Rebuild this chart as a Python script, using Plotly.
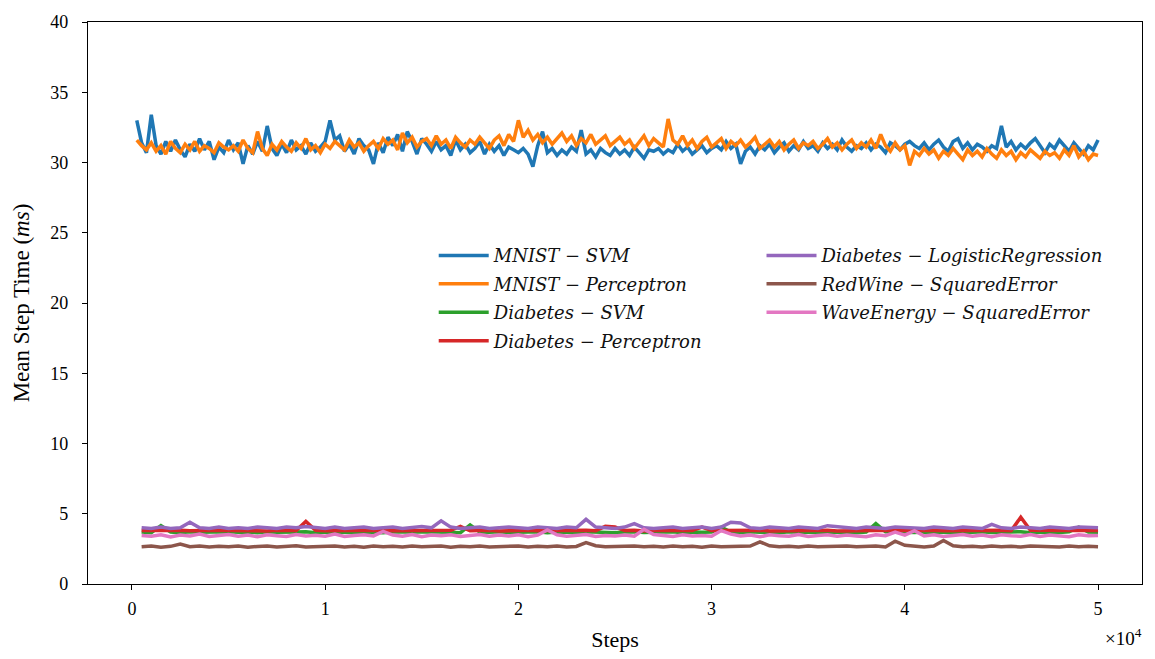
import plotly.graph_objects as go

# ---------------- data ----------------
steps_hi = [250 * (i + 1) for i in range(200)]  # 250 .. 50000
steps_lo = [500 * (i + 1) for i in range(100)]  # 500 .. 50000

mnist_svm = [
    33.0, 31.4, 30.7, 33.4, 31.2, 30.6, 31.5, 30.8, 31.6, 30.9,
    30.4, 31.3, 30.8, 31.7, 30.9, 31.5, 30.2, 31.1, 30.7, 31.6,
    30.9, 31.4, 29.9, 31.2, 30.6, 31.5, 30.8, 32.6, 31.0, 30.5,
    31.3, 30.7, 31.6, 30.9, 31.2, 30.6, 31.4, 30.8, 31.1, 31.5,
    33.0, 31.6, 31.9, 30.8, 31.3, 30.6, 31.7, 31.2, 30.9, 29.9,
    31.4, 30.7, 31.8, 31.2, 32.0, 30.8, 32.2, 31.5, 30.6, 31.7,
    31.3, 30.8, 31.5, 30.9, 31.2, 30.5, 31.6, 30.9, 31.3, 30.7,
    31.0, 31.5, 30.6, 31.3, 30.8, 31.2, 30.5, 31.1, 30.9, 30.7,
    31.0, 30.6, 29.7, 31.2, 32.2, 30.7, 31.0, 30.5, 30.9, 30.6,
    31.1, 30.8, 32.3, 30.6, 30.9, 30.4, 31.0, 30.7, 30.5, 31.0,
    30.6, 30.9, 30.5, 31.1, 30.7, 30.3, 30.9, 30.8, 31.0, 30.6,
    30.9, 30.7, 31.3, 30.8, 31.1, 30.6, 30.9, 31.2, 30.7, 31.0,
    31.2, 30.9, 31.5, 31.0, 31.3, 29.9, 30.8, 31.1, 30.6, 31.2,
    30.9, 31.3, 30.7, 31.1, 31.4, 30.8, 31.2, 30.9, 31.5, 31.0,
    31.2, 30.8, 31.4, 31.0, 31.3, 30.9, 31.6, 31.1, 30.8, 31.2,
    31.0, 31.4, 30.9, 31.3, 31.1, 30.7, 31.4, 31.2, 30.9, 31.3,
    31.5, 31.2, 31.0, 31.4, 30.9, 31.3, 31.6, 31.1, 30.8, 31.5,
    31.7, 31.0, 31.4, 30.9, 31.3, 31.1, 30.8, 31.2, 31.0, 32.6,
    31.1, 31.5, 30.9, 31.3, 31.0, 31.4, 31.7, 31.2, 30.7, 31.3,
    31.0, 31.6, 31.2, 30.8, 31.4, 31.0, 30.6, 31.2, 30.9, 31.6,
]

mnist_perceptron = [
    31.6, 31.2, 30.9, 31.4, 30.8, 31.2, 30.6, 31.5, 31.0, 30.7,
    31.3, 30.9, 31.5, 30.8, 31.2, 31.0, 30.7, 31.4, 31.1, 30.9,
    31.2, 30.8, 31.6, 31.0, 30.7, 32.2, 31.0, 30.5, 31.3, 30.9,
    31.5, 31.1, 30.8, 31.4, 31.0, 31.7, 30.9, 31.2, 30.7, 31.3,
    31.0, 31.5, 31.2, 30.9, 31.6, 31.1, 31.4, 30.8, 31.2, 31.5,
    31.0, 31.7, 31.3, 31.6, 30.9, 32.1, 31.4, 31.8, 31.1, 31.5,
    31.7, 31.2, 31.9, 31.3, 31.6, 31.0, 31.8, 31.4, 31.1, 31.6,
    31.3, 31.8, 31.4, 31.0, 31.6, 31.9, 31.2, 32.0, 31.5, 33.0,
    31.8, 32.3, 31.6, 32.0, 31.4, 31.8, 31.3, 31.7, 32.1, 31.5,
    31.9, 31.2, 31.7, 31.4, 32.0, 31.3, 31.6, 31.9, 31.2, 31.5,
    31.8, 31.3, 31.6, 31.0, 31.5, 31.9, 31.2, 31.7, 31.4, 31.1,
    33.1, 31.6, 31.3, 31.9, 31.2, 31.6, 31.0, 31.5, 31.8, 31.1,
    31.4, 31.7, 31.0, 31.5, 31.2, 31.6, 31.1, 31.4, 31.8, 31.0,
    31.3, 31.6, 31.1, 31.5, 30.9, 31.3, 31.6, 31.0, 31.4, 31.2,
    31.5, 31.0, 31.3, 31.7, 31.1, 31.4, 30.9, 31.3, 31.6, 31.0,
    31.4, 31.1, 31.6, 31.0, 32.0, 31.2, 30.8, 31.4, 30.9, 31.2,
    29.8, 30.8, 30.5, 31.0, 30.6, 30.9, 30.3, 30.8, 30.5, 31.0,
    30.6, 30.2, 30.9, 30.5, 30.8, 30.4, 31.0, 30.6, 30.3, 30.9,
    30.5, 30.8, 30.2, 30.7, 30.4, 30.9, 30.6, 30.3, 30.8, 30.5,
    30.7, 30.3, 30.9, 30.5, 31.2, 30.4, 30.8, 30.2, 30.6, 30.5,
]

diabetes_svm = [
    3.70, 3.65, 4.15, 3.70, 3.65, 3.72, 3.68, 3.70, 3.66, 3.72,
    3.68, 3.70, 3.65, 3.72, 3.68, 3.66, 3.70, 3.72, 3.65, 3.70,
    3.68, 3.72, 3.66, 3.70, 3.68, 3.65, 3.72, 3.70, 3.66, 3.70,
    3.72, 3.68, 3.70, 3.65, 4.20, 3.70, 3.68, 3.72, 3.66, 3.70,
    3.68, 3.72, 3.65, 3.70, 3.68, 3.66, 3.72, 3.70, 3.68, 3.65,
    3.70, 3.72, 3.66, 3.70, 3.68, 3.72, 3.65, 3.70, 3.68, 3.70,
    4.05, 3.70, 3.66, 3.72, 3.68, 3.70, 3.65, 3.72, 3.68, 3.70,
    3.66, 3.72, 3.70, 3.68, 3.65, 3.70, 4.30, 3.72, 3.68, 3.70,
    3.66, 3.70, 3.72, 3.68, 3.65, 3.70, 3.68, 3.72, 3.66, 3.70,
    3.68, 3.72, 3.65, 3.70, 3.68, 3.66, 3.72, 4.05, 3.70, 3.68,
]

diabetes_perceptron = [
    3.80, 3.82, 3.78, 3.80, 3.83, 3.79, 3.81, 3.78, 3.82, 3.80,
    3.79, 3.83, 3.80, 3.78, 3.82, 3.80, 3.81, 4.45, 3.82, 3.79,
    3.80, 3.82, 3.78, 3.81, 3.80, 3.83, 3.79, 3.80, 3.82, 3.78,
    3.81, 3.80, 3.82, 4.10, 3.79, 3.80, 3.83, 3.78, 3.81, 3.80,
    3.82, 3.79, 3.80, 3.83, 3.78, 3.80, 3.82, 3.79, 4.10, 4.05,
    3.80, 3.82, 3.78, 3.81, 3.80, 3.83, 3.79, 3.80, 4.05, 3.81,
    3.80, 3.82, 3.79, 3.81, 3.83, 3.78, 3.80, 3.82, 3.79, 3.81,
    3.80, 3.83, 3.78, 3.80, 3.82, 3.79, 3.81, 3.80, 3.82, 3.78,
    3.81, 3.80, 3.83, 3.79, 3.80, 3.82, 3.78, 3.81, 3.80, 3.83,
    3.79, 4.75, 3.82, 3.80, 3.78, 3.81, 3.80, 3.82, 3.79, 3.80,
]

diabetes_logreg = [
    4.00, 3.95, 4.05, 3.95, 4.00, 4.40, 4.00, 3.95, 4.05, 3.95,
    4.00, 3.95, 4.05, 4.00, 3.95, 4.05, 4.00, 4.10, 4.00, 3.95,
    4.05, 3.95, 4.00, 4.05, 3.95, 4.00, 4.05, 3.95, 4.00, 4.10,
    4.00, 4.50, 4.05, 3.95, 4.00, 4.05, 3.95, 4.00, 4.05, 4.00,
    3.95, 4.05, 4.00, 3.95, 4.05, 4.00, 4.60, 4.05, 4.00, 3.95,
    4.05, 4.30, 4.00, 3.95, 4.00, 4.05, 3.95, 4.00, 4.05, 3.95,
    4.05, 4.40, 4.35, 4.00, 3.95, 4.05, 4.00, 3.95, 4.05, 4.00,
    3.95, 4.15, 4.10, 4.00, 3.95, 4.05, 4.00, 3.95, 4.05, 4.00,
    4.00, 3.95, 4.05, 4.00, 3.95, 4.05, 4.00, 3.95, 4.25, 4.00,
    3.95, 4.05, 4.00, 3.95, 4.05, 4.00, 3.95, 4.05, 4.00, 4.00,
]

redwine_sqerr = [
    2.65, 2.70, 2.62, 2.68, 2.85, 2.66, 2.70, 2.63, 2.68, 2.65,
    2.70, 2.62, 2.67, 2.70, 2.64, 2.68, 2.72, 2.63, 2.67, 2.65,
    2.70, 2.64, 2.68, 2.62, 2.70, 2.66, 2.68, 2.63, 2.70, 2.65,
    2.67, 2.70, 2.62, 2.68, 2.65, 2.70, 2.64, 2.68, 2.66, 2.70,
    2.63, 2.68, 2.65, 2.70, 2.64, 2.67, 2.95, 2.72, 2.66, 2.68,
    2.64, 2.70, 2.66, 2.68, 2.63, 2.70, 2.65, 2.68, 2.62, 2.70,
    2.66, 2.68, 2.64, 2.70, 3.00, 2.72, 2.65, 2.68, 2.63, 2.70,
    2.66, 2.68, 2.64, 2.70, 2.65, 2.67, 2.70, 2.64, 3.05, 2.75,
    2.68, 2.64, 2.70, 3.10, 2.72, 2.66, 2.68, 2.64, 2.70, 2.65,
    2.68, 2.63, 2.70, 2.66, 2.68, 2.64, 2.70, 2.65, 2.68, 2.66,
]

waveenergy_sqerr = [
    3.45, 3.40, 3.50, 3.35, 3.48, 3.42, 3.55, 3.38, 3.46, 3.52,
    3.40, 3.48, 3.36, 3.50, 3.44, 3.38, 3.52, 3.42, 3.47, 3.40,
    3.55, 3.38, 3.45, 3.50, 3.42, 3.75, 3.48, 3.40, 3.52, 3.36,
    3.48, 3.44, 3.50, 3.38, 3.46, 3.52, 3.40, 3.48, 3.42, 3.50,
    3.36, 3.48, 3.85, 3.50, 3.40, 3.46, 3.52, 3.38, 3.45, 3.42,
    3.48, 3.40, 3.90, 3.52, 3.44, 3.38, 3.50, 3.42, 3.46, 3.40,
    3.80, 3.55, 3.42, 3.48, 3.36, 3.50, 3.44, 3.40, 3.52, 3.38,
    3.46, 3.50, 3.40, 3.48, 3.42, 3.36, 3.50, 3.44, 3.70, 3.48,
    3.80, 3.42, 3.50, 3.38, 3.46, 3.52, 3.40, 3.48, 3.36, 3.50,
    3.44, 3.40, 3.52, 3.38, 3.48, 3.42, 3.36, 3.50, 3.44, 3.46,
]

x_tick_vals = [0, 10000, 20000, 30000, 40000, 50000]
x_tick_text = ["0", "1", "2", "3", "4", "5"]
y_tick_vals = [0, 5, 10, 15, 20, 25, 30, 35, 40]

# ---------------- figure ----------------
series = [
    ("<i>MNIST − SVM</i>", steps_hi, mnist_svm, "#1f77b4", "legend"),
    ("<i>MNIST − Perceptron</i>", steps_hi, mnist_perceptron, "#ff7f0e", "legend"),
    ("<i>Diabetes − SVM</i>", steps_lo, diabetes_svm, "#2ca02c", "legend"),
    ("<i>Diabetes − Perceptron</i>", steps_lo, diabetes_perceptron, "#d62728", "legend"),
    ("<i>Diabetes − LogisticRegression</i>", steps_lo, diabetes_logreg, "#9467bd", "legend2"),
    ("<i>RedWine − SquaredError</i>", steps_lo, redwine_sqerr, "#8c564b", "legend2"),
    ("<i>WaveEnergy − SquaredError</i>", steps_lo, waveenergy_sqerr, "#e377c2", "legend2"),
]

fig = go.Figure()
for k, (name, xs, ys, color, lg) in enumerate(series):
    fig.add_trace(go.Scatter(
        x=xs, y=ys, mode="lines", name=name,
        line=dict(color=color, width=3.5),
        legend=lg, legendgroup=f"g{k}",
    ))

FONT = "Liberation Serif"
LEGEND_FONT = "DejaVu Serif"
legend_common = dict(
    bgcolor="rgba(255,255,255,0.8)",
    borderwidth=0,
    font=dict(family=LEGEND_FONT, size=18, color="#111"),
    yanchor="top",
    xanchor="left",
    itemwidth=50,
    tracegroupgap=2,
)

fig.update_layout(
    width=1155,
    height=659,
    margin=dict(l=88, r=12, t=17, b=75),
    paper_bgcolor="white",
    plot_bgcolor="white",
    font=dict(family=FONT, size=18, color="black"),
    showlegend=True,
    legend=dict(x=0.328, y=0.617, **legend_common),
    legend2=dict(x=0.639, y=0.617, **legend_common),
    xaxis=dict(
        range=[-2275, 52275],
        tickvals=x_tick_vals,
        ticktext=x_tick_text,
        ticks="outside",
        ticklen=5,
        tickwidth=1.2,
        tickcolor="black",
        ticklabelstandoff=3,
        showline=True,
        linecolor="black",
        linewidth=1.3,
        mirror=True,
        showgrid=False,
        zeroline=False,
        title=dict(text="Steps", font=dict(size=22), standoff=13),
        tickfont=dict(size=18),
    ),
    yaxis=dict(
        range=[0, 40],
        tickvals=y_tick_vals,
        ticks="outside",
        ticklen=5,
        tickwidth=1.2,
        tickcolor="black",
        ticklabelstandoff=10,
        showline=True,
        linecolor="black",
        linewidth=1.3,
        mirror=True,
        showgrid=False,
        zeroline=False,
        title=dict(text="Mean Step Time (<i>ms</i>)", font=dict(size=23), standoff=14),
        tickfont=dict(size=18),
    ),
    annotations=[
        dict(
            text="×10<sup>4</sup>",
            xref="paper", yref="paper",
            x=1.002, y=-0.07,
            xanchor="right", yanchor="top",
            showarrow=False,
            font=dict(family=FONT, size=19),
        )
    ],
)

fig.write_html("out.html")
